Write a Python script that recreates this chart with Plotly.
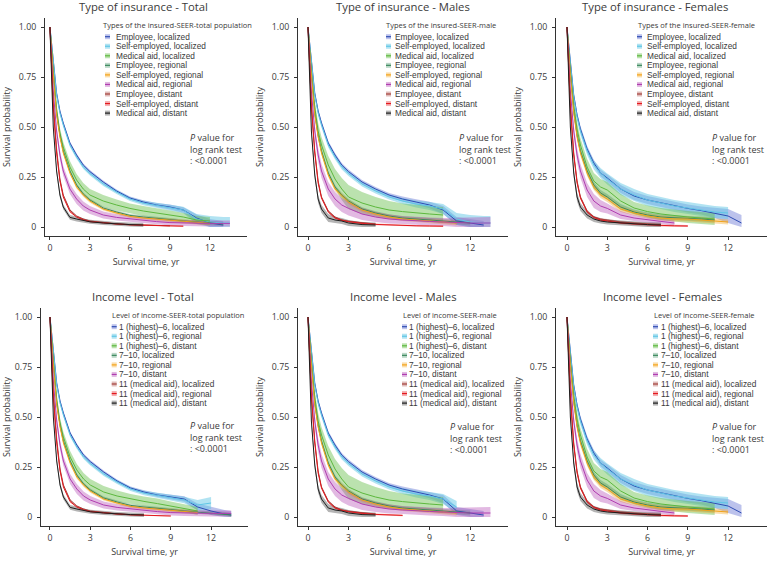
import plotly.graph_objects as go
from plotly.subplots import make_subplots

# follow-up time points (years) at which the curves were read
t_grid = [0, 0.1, 0.25, 0.5, 0.75, 1, 1.5, 2, 2.5, 3, 4, 5, 6, 7, 8, 9, 10, 11, 12, 13, 13.5]

ins_labels = ["Employee, localized", "Self-employed, localized", "Medical aid, localized",
              "Employee, regional", "Self-employed, regional", "Medical aid, regional",
              "Employee, distant", "Self-employed, distant", "Medical aid, distant"]
inc_labels = ["1 (highest)–6, localized", "1 (highest)–6, regional", "1 (highest)–6, distant",
              "7–10, localized", "7–10, regional", "7–10, distant",
              "11 (medical aid), localized", "11 (medical aid), regional", "11 (medical aid), distant"]

panel_titles = ["Type of insurance - Total", "Type of insurance - Males", "Type of insurance - Females",
                "Income level - Total", "Income level - Males", "Income level - Females"]
legend_titles = ["Types of the insured-SEER-total population", "Types of the insured-SEER-male",
                 "Types of the insured-SEER-female", "Level of income-SEER-total population",
                 "Level of income-SEER-male", "Level of income-SEER-female"]

# survival probability, one row per group (same order as labels)
ins_total = [
    [1, .93, .84, .67, .58, .52, .42, .36, .31, .277, .225, .18, .145, .125, .11, .10, .085, .045, .02, .01],
    [1, .92, .83, .66, .57, .51, .41, .35, .30, .267, .215, .175, .14, .12, .108, .095, .085, .04, .025, .02, .02],
    [1, .90, .78, .59, .47, .40, .30, .235, .19, .16, .13, .11, .093, .08, .07, .06, .05, .035, .03],
    [1, .90, .77, .57, .46, .38, .28, .21, .165, .135, .095, .075, .058, .05, .045, .037, .03, .025, .02, .015],
    [1, .89, .76, .56, .45, .37, .27, .20, .16, .13, .09, .07, .053, .045, .04, .033, .028, .022, .018],
    [1, .86, .68, .48, .36, .28, .19, .14, .105, .085, .06, .048, .04, .033, .027, .022, .02, .018, .018, .018, .018],
    [1, .82, .62, .39, .24, .16, .085, .055, .04, .03, .022, .016, .012, .01, .008, .006],
    [1, .81, .60, .37, .23, .15, .077, .05, .036, .027, .02, .015, .011, .009, .007, .005, .004],
    [1, .76, .50, .28, .16, .10, .048, .04, .032, .026, .02, .015, .012, .01],
]
ins_male = [
    [1, .93, .84, .67, .58, .52, .42, .36, .31, .277, .225, .19, .16, .14, .125, .11, .085, .03, .02, .01],
    [1, .92, .83, .66, .57, .51, .41, .35, .30, .267, .215, .18, .15, .13, .115, .105, .09, .04, .025, .02, .02],
    [1, .90, .78, .60, .48, .41, .31, .24, .19, .15, .12, .10, .085, .077, .07, .065, .06],
    [1, .90, .77, .57, .46, .38, .27, .20, .16, .13, .09, .07, .055, .045, .04, .035, .03, .025, .02],
    [1, .89, .76, .56, .45, .37, .26, .19, .155, .125, .085, .065, .05, .04, .035, .03, .025, .02],
    [1, .86, .68, .48, .36, .28, .19, .14, .11, .093, .065, .05, .04, .035, .03, .028, .025, .022, .02, .02, .02],
    [1, .82, .61, .38, .23, .15, .08, .05, .035, .028, .02, .015],
    [1, .81, .60, .37, .22, .145, .075, .045, .033, .027, .018, .013, .01, .008, .006, .005, .004],
    [1, .74, .48, .26, .14, .09, .045, .035, .03, .02, .012, .01],
]
ins_female = [
    [1, .93, .83, .66, .56, .49, .39, .32, .27, .245, .19, .155, .135, .12, .105, .093, .082, .07, .055, .02],
    [1, .92, .82, .65, .55, .48, .38, .31, .27, .24, .19, .16, .135, .12, .105, .095, .085, .075, .07],
    [1, .90, .78, .61, .49, .41, .30, .23, .20, .185, .13, .095, .077, .065, .057, .05, .045, .04],
    [1, .90, .77, .58, .46, .38, .28, .21, .17, .15, .10, .075, .06, .05, .045, .043, .04, .035],
    [1, .89, .76, .57, .45, .37, .27, .20, .16, .14, .09, .07, .055, .045, .04, .04, .035, .03, .025],
    [1, .86, .68, .48, .36, .28, .185, .13, .105, .093, .06, .045, .035, .028, .02],
    [1, .82, .61, .37, .23, .15, .08, .05, .04, .035, .025, .02, .015, .012],
    [1, .81, .60, .36, .22, .145, .075, .048, .035, .03, .02, .015, .01, .008, .006, .005],
    [1, .75, .50, .27, .15, .10, .06, .04, .03, .025, .02, .015, .012, .01],
]
inc_total = [
    [1, .93, .84, .67, .58, .52, .42, .36, .31, .277, .225, .18, .145, .125, .11, .10, .09, .05, .03, .015, .01],
    [1, .92, .83, .66, .57, .51, .41, .35, .30, .267, .215, .175, .14, .12, .108, .095, .085, .06, .07],
    [1, .90, .78, .59, .47, .40, .30, .235, .19, .16, .125, .105, .09, .078, .067, .055, .045, .03],
    [1, .90, .77, .57, .46, .38, .28, .21, .165, .135, .095, .075, .058, .05, .045, .037, .03, .025, .02, .015, .01],
    [1, .89, .76, .56, .45, .37, .27, .20, .16, .13, .09, .07, .053, .045, .04, .033, .028, .022],
    [1, .86, .68, .48, .36, .28, .19, .14, .105, .085, .06, .048, .04, .033, .027, .022, .02, .018, .018, .018, .018],
    [1, .82, .62, .39, .24, .16, .085, .055, .04, .03, .022, .016, .012, .01],
    [1, .81, .60, .37, .23, .15, .077, .05, .036, .027, .02, .015, .011, .009, .007, .005],
    [1, .76, .50, .28, .16, .10, .048, .04, .032, .026, .02, .015, .012, .01],
]
inc_male = [
    [1, .93, .84, .67, .58, .52, .42, .36, .31, .277, .225, .19, .16, .14, .125, .11, .09, .03, .02, .01],
    [1, .92, .83, .66, .57, .51, .41, .35, .30, .267, .215, .18, .15, .13, .115, .105, .09, .05],
    [1, .90, .78, .60, .48, .41, .31, .24, .19, .15, .12, .10, .085, .077, .07, .065, .06],
    [1, .90, .77, .57, .46, .38, .27, .20, .16, .13, .09, .07, .055, .045, .04, .035, .03, .025, .02],
    [1, .89, .76, .56, .45, .37, .26, .19, .155, .125, .085, .065, .05, .04, .035, .03, .025, .02],
    [1, .86, .68, .48, .36, .28, .19, .14, .11, .093, .065, .05, .04, .035, .03, .028, .025, .022, .02, .02, .02],
    [1, .82, .61, .38, .23, .15, .08, .05, .035, .028, .02, .015],
    [1, .81, .60, .37, .22, .145, .075, .045, .033, .027, .018, .013, .01, .008],
    [1, .74, .48, .26, .14, .09, .045, .035, .03, .02, .012, .01],
]
inc_female = [
    [1, .93, .83, .66, .56, .49, .39, .32, .27, .245, .19, .155, .135, .12, .105, .093, .082, .07, .055, .02],
    [1, .92, .82, .65, .55, .48, .38, .31, .27, .24, .19, .16, .135, .12, .105, .095, .085, .075, .07],
    [1, .90, .78, .61, .49, .41, .30, .23, .20, .185, .13, .095, .077, .065, .057, .05, .045, .04],
    [1, .90, .77, .58, .46, .38, .28, .21, .17, .15, .10, .075, .06, .05, .045, .043, .04, .035],
    [1, .89, .76, .57, .45, .37, .27, .20, .16, .14, .09, .07, .055, .045, .04, .04, .035, .03, .025],
    [1, .86, .68, .48, .36, .28, .185, .13, .105, .093, .06, .045, .035, .028, .02],
    [1, .82, .61, .37, .23, .15, .08, .05, .04, .035, .025, .02, .015, .012],
    [1, .81, .60, .36, .22, .145, .075, .048, .035, .03, .02, .015, .01, .008, .006, .005],
    [1, .75, .50, .27, .15, .10, .06, .04, .03, .025, .02, .015, .012, .01],
]

# half-width of the confidence band at each time point
hw_total = [
    [0, .004, .006, .008, .008, .008, .008, .008, .008, .008, .008, .008, .008, .009, .01, .012, .014, .018, .02, .02, .02],
    [0, .005, .007, .009, .01, .01, .01, .01, .01, .01, .01, .01, .01, .011, .012, .014, .016, .025, .03, .03, .03],
    [0, .01, .015, .02, .025, .025, .03, .03, .03, .03, .03, .028, .025, .025, .025, .022, .02, .02, .02, .02, .02],
    [0, .004, .006, .007, .008, .008, .008, .008, .008, .008, .007, .007, .007, .007, .007, .008, .008, .009, .01, .01, .01],
    [0, .005, .007, .008, .009, .009, .009, .009, .009, .009, .008, .008, .008, .008, .008, .009, .01, .01, .01, .01, .01],
    [0, .01, .015, .02, .025, .025, .025, .025, .022, .02, .018, .016, .015, .015, .015, .015, .015, .015, .015, .015, .015],
    [0, .004, .005, .005, .005, .004, .004, .003, .003, .003, .003, .003, .003, .003, .003, .003, .003, .003, .003, .003, .003],
    [0, .004, .005, .005, .005, .004, .004, .003, .003, .003, .003, .003, .003, .003, .003, .003, .003, .003, .003, .003, .003],
    [0, .01, .015, .015, .015, .012, .012, .012, .01, .01, .01, .01, .01, .01, .01, .01, .01, .01, .01, .01, .01],
]
hw_male = [
    [0, .005, .008, .01, .01, .01, .01, .01, .01, .01, .01, .01, .01, .012, .014, .016, .02, .02, .02, .02, .02],
    [0, .006, .009, .012, .012, .012, .012, .012, .012, .012, .012, .012, .013, .015, .018, .02, .025, .03, .035, .035, .035],
    [0, .015, .02, .03, .04, .04, .045, .05, .055, .06, .055, .05, .045, .04, .04, .04, .04, .04, .04, .04, .04],
    [0, .005, .008, .01, .01, .01, .01, .01, .01, .01, .009, .009, .009, .009, .009, .01, .01, .01, .012, .012, .012],
    [0, .006, .009, .011, .011, .011, .011, .011, .011, .011, .01, .01, .01, .01, .01, .011, .012, .012, .012, .012, .012],
    [0, .015, .02, .03, .035, .035, .035, .035, .035, .035, .03, .025, .022, .02, .02, .02, .02, .025, .03, .03, .03],
    [0, .005, .006, .006, .006, .005, .005, .004, .004, .004, .004, .004, .004, .004, .004, .004, .004, .004, .004, .004, .004],
    [0, .005, .006, .006, .006, .005, .005, .004, .004, .004, .004, .004, .004, .004, .004, .004, .004, .004, .004, .004, .004],
    [0, .015, .02, .02, .02, .02, .02, .015, .015, .015, .012, .012, .012, .012, .012, .012, .012, .012, .012, .012, .012],
]
hw_female = [
    [0, .006, .01, .012, .015, .015, .015, .015, .016, .018, .02, .02, .02, .02, .02, .02, .02, .025, .035, .04, .04],
    [0, .007, .012, .015, .018, .02, .02, .022, .025, .028, .03, .03, .03, .03, .03, .03, .03, .03, .03, .03, .03],
    [0, .012, .02, .03, .035, .035, .04, .04, .04, .04, .035, .03, .03, .03, .03, .03, .03, .03, .03, .03, .03],
    [0, .008, .012, .015, .015, .015, .015, .015, .015, .015, .015, .012, .012, .012, .012, .012, .012, .012, .012, .012, .012],
    [0, .008, .012, .015, .015, .015, .015, .015, .015, .015, .015, .012, .012, .012, .012, .012, .012, .012, .012, .012, .012],
    [0, .012, .02, .03, .035, .035, .035, .035, .03, .025, .02, .015, .012, .012, .012, .012, .012, .012, .012, .012, .012],
    [0, .005, .008, .008, .008, .007, .006, .005, .005, .005, .005, .005, .005, .005, .005, .005, .005, .005, .005, .005, .005],
    [0, .005, .008, .008, .008, .007, .006, .005, .005, .005, .005, .005, .005, .005, .005, .005, .005, .005, .005, .005, .005],
    [0, .012, .02, .022, .022, .02, .018, .015, .013, .012, .012, .012, .012, .012, .012, .012, .012, .012, .012, .012, .012],
]

colors = ["#2F4DB3", "#5FC6E6", "#5DB83E", "#3B8A5E", "#F2A31B", "#B03DB0", "#A3403B", "#E3191E", "#1E1E1E"]
band_colors = ["rgba(80,95,205,0.38)", "rgba(100,200,230,0.5)", "rgba(105,190,75,0.45)",
               "rgba(60,140,95,0.35)", "rgba(245,170,40,0.40)", "rgba(180,70,180,0.38)",
               "rgba(165,65,60,0.35)", "rgba(230,30,35,0.35)", "rgba(40,40,40,0.35)"]

panels = [
    (ins_total, hw_total, ins_labels), (ins_male, hw_male, ins_labels), (ins_female, hw_female, ins_labels),
    (inc_total, hw_total, inc_labels), (inc_male, hw_male, inc_labels), (inc_female, hw_female, inc_labels),
]

W, H = 768, 563
FONT = "Open Sans"
TXT = "#3a3a3a"


def px(x):
    return x / W


def py(y):
    return 1 - y / H


fig = make_subplots(rows=2, cols=3)

for k, (surv, hw, labels) in enumerate(panels):
    row, col = k // 3 + 1, k % 3 + 1
    for i, s in enumerate(surv):
        x = t_grid[:len(s)]
        lo = [max(v - h, 0) for v, h in zip(s, hw[i])]
        up = [min(v + h, 1) for v, h in zip(s, hw[i])]
        fig.add_trace(go.Scatter(x=x, y=lo, mode="lines", line=dict(width=0), hoverinfo="skip",
                                 showlegend=False), row=row, col=col)
        fig.add_trace(go.Scatter(x=x, y=up, mode="lines", line=dict(width=0), fill="tonexty",
                                 fillcolor=band_colors[i], hoverinfo="skip", showlegend=False),
                      row=row, col=col)
    for i, s in enumerate(surv):
        fig.add_trace(go.Scatter(x=t_grid[:len(s)], y=s, mode="lines", name=labels[i],
                                 line=dict(color=colors[i], width=1), showlegend=False),
                      row=row, col=col)

# panel geometry in pixels
x_doms = [(45, 247), (298, 508), (556, 767), (41, 248), (298, 508), (556, 767)]
y_doms = [(18, 236)] * 3 + [(308, 526)] * 3
x_ranges = [[-0.37, 14.78], [-0.74, 14.8], [-0.82, 14.9], [-0.67, 14.75], [-0.74, 14.8], [-0.82, 14.9]]

axis_common = dict(showline=True, linecolor="#333", linewidth=1, ticks="outside", ticklen=3,
                   tickcolor="#333", showgrid=False, zeroline=False,
                   tickfont=dict(family=FONT, size=8.8, color=TXT))
for k in range(6):
    n = "" if k == 0 else str(k + 1)
    fig.update_layout({
        "xaxis" + n: dict(axis_common, domain=[px(x_doms[k][0]), px(x_doms[k][1])], range=x_ranges[k],
                          tickvals=[0, 3, 6, 9, 12],
                          title=dict(text="Survival time, yr", standoff=6,
                                     font=dict(family=FONT, size=9, color=TXT))),
        "yaxis" + n: dict(axis_common, domain=[py(y_doms[k][1]), py(y_doms[k][0])], range=[-0.045, 1.045],
                          tickvals=[0, 0.25, 0.5, 0.75, 1], ticktext=["0", "0.25", "0.50", "0.75", "1.00"],
                          ticklabelstandoff=3,
                          title=dict(text="Survival probability", standoff=6,
                                     font=dict(family=FONT, size=9, color=TXT))),
    })

annotations = []
shapes = []
title_pos = [(143, 7), (403, 7), (655, 7), (143, 296), (403, 296), (662, 296)]
# legend: title left, key left, label left, title y
legend_pos = [(102, 105, 115, 25), (385, 386, 394, 25), (637, 637, 645.5, 25),
              (111, 111.7, 117.5, 315), (402, 402, 408.3, 315), (653, 653, 659.7, 315)]
pval_pos = [(188, 129), (457, 129), (710, 129), (188, 417), (448, 418), (710, 418)]

for k in range(6):
    tx, ty = title_pos[k]
    annotations.append(dict(x=px(tx), y=py(ty), xref="paper", yref="paper", text=panel_titles[k],
                            showarrow=False, xanchor="center", yanchor="middle",
                            font=dict(family=FONT, size=11.3, color=TXT)))
    lt, lk, lx, ly = legend_pos[k]
    annotations.append(dict(x=px(lt), y=py(ly), xref="paper", yref="paper", text=legend_titles[k],
                            showarrow=False, xanchor="left", yanchor="middle", borderpad=0,
                            font=dict(family=FONT, size=7.5, color=TXT)))
    labels = panels[k][2]
    for i, lab in enumerate(labels):
        iy = ly + 11.7 + i * 9.55
        shapes.append(dict(type="rect", xref="paper", yref="paper", x0=px(lk), x1=px(lk + 5),
                           y0=py(iy + 2.5), y1=py(iy - 2.5), fillcolor=band_colors[i], line=dict(width=0)))
        shapes.append(dict(type="line", xref="paper", yref="paper", x0=px(lk), x1=px(lk + 5),
                           y0=py(iy), y1=py(iy), line=dict(color=colors[i], width=1.2)))
        annotations.append(dict(x=px(lx), y=py(iy), xref="paper", yref="paper", text=lab,
                                showarrow=False, xanchor="left", yanchor="middle", borderpad=0,
                                font=dict(family="Liberation Sans", size=8.3, color=TXT)))
    vx, vy = pval_pos[k]
    annotations.append(dict(x=px(vx), y=py(vy), xref="paper", yref="paper",
                            text="<i>P</i> value for<br>log rank test<br>: &lt;0.0001",
                            showarrow=False, xanchor="left", yanchor="top", align="left",
                            font=dict(family=FONT, size=9, color=TXT)))

fig.update_layout(width=W, height=H, margin=dict(l=0, r=0, t=0, b=0),
                  plot_bgcolor="white", paper_bgcolor="white", showlegend=False,
                  annotations=annotations, shapes=shapes)

# the page's default body margin would push the 768x563 figure off the window
fig.write_html("out.html", config={"displayModeBar": False},
               post_script="document.body.style.margin='0';")
